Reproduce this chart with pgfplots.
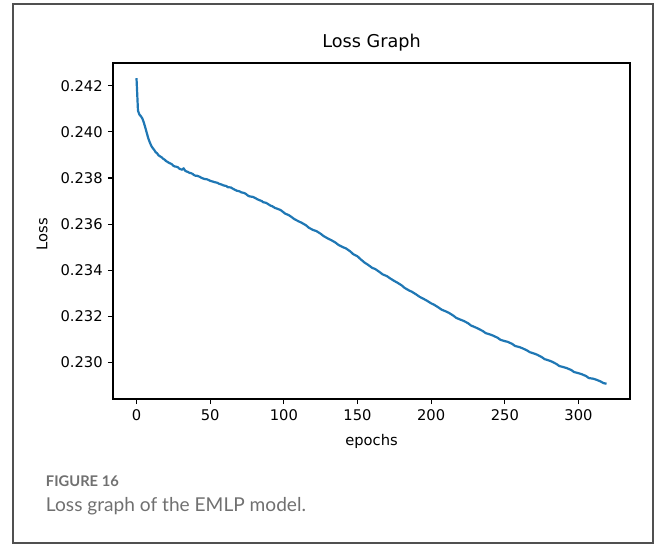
\documentclass[border=0pt]{standalone}
\usepackage{pgfplots}
\pgfplotsset{compat=1.18}
\usepackage{fontspec}
\setmainfont{DejaVu Sans}
\newfontfamily\capfont{Lato}
\definecolor{mplblue}{HTML}{1F77B4}
\definecolor{framegray}{HTML}{505050}
\definecolor{capgray}{HTML}{707070}
\begin{document}
\begin{tikzpicture}[x=0.68pt,y=0.68pt]
\useasboundingbox (0,0) rectangle (659,547);
\draw[framegray,line width=1.1pt] (13,4) rectangle (653,543);
\begin{axis}[
  at={(76.84pt,100.64pt)}, anchor=south west,
  scale only axis,
  width=351.56pt, height=228.48pt,
  xmin=-15.95, xmax=334.95,
  ymin=0.22841, ymax=0.24299,
  xtick={0,50,100,150,200,250,300},
  ytick={0.230,0.232,0.234,0.236,0.238,0.240,0.242},
  yticklabel style={/pgf/number format/.cd,fixed,fixed zerofill,precision=3},
  /pgf/number format/assume math mode=true,
  scaled y ticks=false,
  tick pos=left, tick align=outside,
  major tick length=3.5pt,
  every tick/.style={black,line width=0.8pt},
  axis line style={black,line width=0.8pt},
  tick label style={font=\fontsize{10}{12}\selectfont},
  title={Loss Graph},
  title style={at={(axis description cs:0.5,1.0208)},anchor=base,font=\fontsize{12}{14}\selectfont},
  xlabel={epochs},
  xlabel style={at={(axis description cs:0.5,-0.137)},anchor=base,font=\fontsize{10}{12}\selectfont},
  ylabel={Loss},
  ylabel style={at={(axis description cs:-0.1373,0.49)},anchor=center,rotate=0,font=\fontsize{10}{12}\selectfont},
]
\addplot[mplblue,line width=1.5pt,line join=round] coordinates {
(0,0.24233) (1,0.24092) (2,0.24075) (3,0.24068) (4,0.24058) (5,0.24040)
(6,0.24018) (7,0.23995) (8,0.23972) (9,0.23955) (10,0.23940) (11,0.23930)
(12,0.23922) (13,0.23912) (14,0.23907) (15,0.23898) (16,0.23894) (17,0.23890)
(18,0.23884) (19,0.23880) (20,0.23874) (21,0.23870) (22,0.23866) (23,0.23863)
(24,0.23860) (25,0.23853) (26,0.23850) (27,0.23849) (28,0.23847) (29,0.23841)
(30,0.23838) (31,0.23836) (32,0.23842) (33,0.23832) (34,0.23828) (35,0.23826)
(36,0.23822) (37,0.23821) (38,0.23818) (39,0.23813) (40,0.23810) (41,0.23810)
(43,0.23805) (44,0.23801) (46,0.23796) (48,0.23794) (50,0.23788) (51,0.23786)
(53,0.23782) (55,0.23779) (56,0.23775) (58,0.23771) (59,0.23768) (61,0.23765)
(62,0.23760) (64,0.23759) (65,0.23755) (67,0.23748) (68,0.23745) (70,0.23742)
(71,0.23738) (73,0.23735) (74,0.23732) (76,0.23722) (77,0.23720) (79,0.23718)
(80,0.23715) (82,0.23708) (83,0.23705) (85,0.23700) (86,0.23695) (88,0.23692)
(89,0.23688) (91,0.23680) (92,0.23678) (94,0.23670) (95,0.23668) (97,0.23663)
(98,0.23660) (100,0.23650) (101,0.23645) (103,0.23640) (105,0.23632) (107,0.23622)
(110,0.23612) (112,0.23606) (115,0.23595) (117,0.23584) (120,0.23574) (122,0.23570)
(125,0.23558) (127,0.23548) (130,0.23537) (132,0.23531) (135,0.23520) (137,0.23510)
(140,0.23500) (142,0.23495) (145,0.23482) (147,0.23470) (150,0.23460) (152,0.23448)
(155,0.23432) (157,0.23424) (160,0.23410) (162,0.23405) (165,0.23392) (167,0.23382)
(170,0.23374) (172,0.23365) (175,0.23353) (177,0.23346) (180,0.23334) (182,0.23323)
(185,0.23312) (187,0.23306) (190,0.23294) (192,0.23285) (195,0.23275) (197,0.23268)
(200,0.23256) (202,0.23250) (205,0.23238) (207,0.23229) (210,0.23221) (212,0.23215)
(215,0.23203) (217,0.23193) (220,0.23185) (222,0.23180) (225,0.23170) (227,0.23160)
(230,0.23152) (232,0.23146) (235,0.23136) (237,0.23127) (240,0.23121) (242,0.23116)
(245,0.23107) (247,0.23098) (250,0.23092) (252,0.23089) (255,0.23080) (257,0.23071)
(260,0.23066) (262,0.23061) (265,0.23052) (267,0.23044) (270,0.23038) (272,0.23033)
(275,0.23023) (277,0.23014) (280,0.23008) (282,0.23003) (285,0.22993) (287,0.22984)
(290,0.22979) (292,0.22975) (295,0.22967) (297,0.22958) (300,0.22953) (302,0.22949)
(305,0.22941) (307,0.22932) (310,0.22929) (312,0.22925) (315,0.22917) (317,0.22910)
(319,0.22907)
};
\end{axis}
\node[anchor=base west,inner sep=0pt,text=capgray,font=\capfont\bfseries\fontsize{10}{12}\selectfont] at (45.7,60.3) {FIGURE 16};
\node[anchor=base west,inner sep=0pt,text=capgray,font=\capfont\fontsize{13}{15}\selectfont] at (45.7,35.3) {Loss graph of the EMLP model.};
\end{tikzpicture}
\end{document}
